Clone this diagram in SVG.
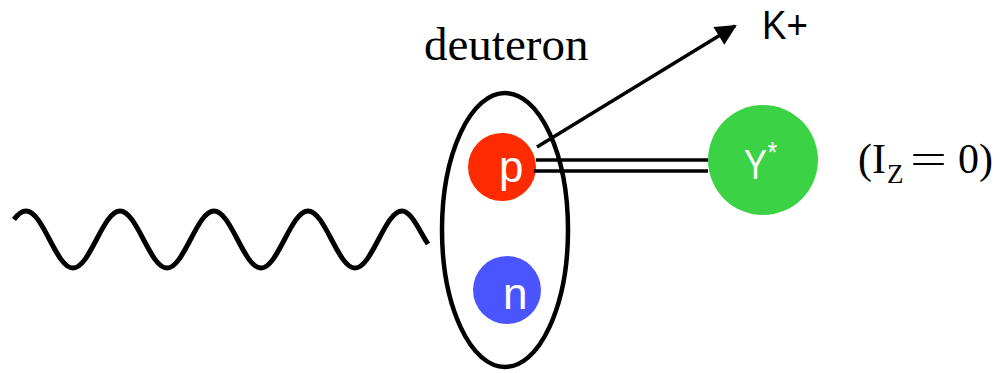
<svg xmlns="http://www.w3.org/2000/svg" width="1003" height="373" viewBox="0 0 1003 373">
<defs>
<style>
.serif{font-family:"Liberation Serif","Times New Roman",serif;fill:#000}
.sans{font-family:"Liberation Sans",Arial,sans-serif}
.lbl{font-family:"Liberation Sans",Arial,sans-serif;fill:#fff}
.line{stroke:#000;stroke-width:3.5;fill:none}
</style>
<marker id="ah" viewBox="0 0 10 10" refX="9" refY="5" markerWidth="7" markerHeight="6" markerUnits="strokeWidth" orient="auto">
<path d="M0,0 L10,5 L0,10 z" fill="#000"/>
</marker>
</defs>
<rect width="1003" height="373" fill="#fff"/>
<g id="photon">
<path d="M14,219.5 C18,214 22,211 26,211 C43.1,211 55.9,268 73,268 C90.1,268 102.9,211 120,211 C137.1,211 149.9,268 167,268 C184.1,268 196.9,211 214,211 C231.1,211 243.9,268 261,268 C278.1,268 290.9,211 308,211 C325.1,211 337.9,268 355,268 C372.1,268 384.9,211 402,211 C411,211 419,230 428,244" fill="none" stroke="#000" stroke-width="5"/>
</g>
<g id="deuteron">
<ellipse cx="505" cy="230" rx="63" ry="137" fill="none" stroke="#000" stroke-width="4.5"/>
<text class="serif" x="424" y="60" font-size="47">deuteron</text>
</g>
<g id="proton">
<circle cx="502" cy="167" r="34" fill="#ff2b00"/>
<text class="lbl" x="499" y="182" font-size="44">p</text>
</g>
<g id="neutron">
<circle cx="507" cy="290" r="34" fill="#4a55ff"/>
<text class="lbl" x="503" y="309" font-size="44">n</text>
</g>
<g id="hyperon">
<circle cx="763" cy="160" r="55" fill="#3cd246"/>
<text class="lbl" transform="translate(744,179) scale(0.8,1)" x="0" y="0" font-size="43">Y<tspan dx="1" dy="-17" font-size="30">*</tspan></text>
<text class="serif" x="858" y="173" font-size="42">(I</text>
<text class="serif" x="887" y="183" font-size="27">Z</text>
<text class="serif" x="910" y="173" font-size="42" textLength="37" lengthAdjust="spacingAndGlyphs">=</text>
<text class="serif" x="958" y="173" font-size="42">0)</text>
</g>
<g id="kaon">
<text class="sans" x="762" y="39" font-size="40" fill="#000" textLength="46" lengthAdjust="spacingAndGlyphs">K+</text>
</g>
<g id="connectors">
<line class="line" x1="537" y1="147" x2="735" y2="26" marker-end="url(#ah)"/>
<line class="line" x1="536" y1="160" x2="708" y2="160"/>
<line class="line" x1="534" y1="171" x2="708" y2="171"/>
</g>
</svg>
